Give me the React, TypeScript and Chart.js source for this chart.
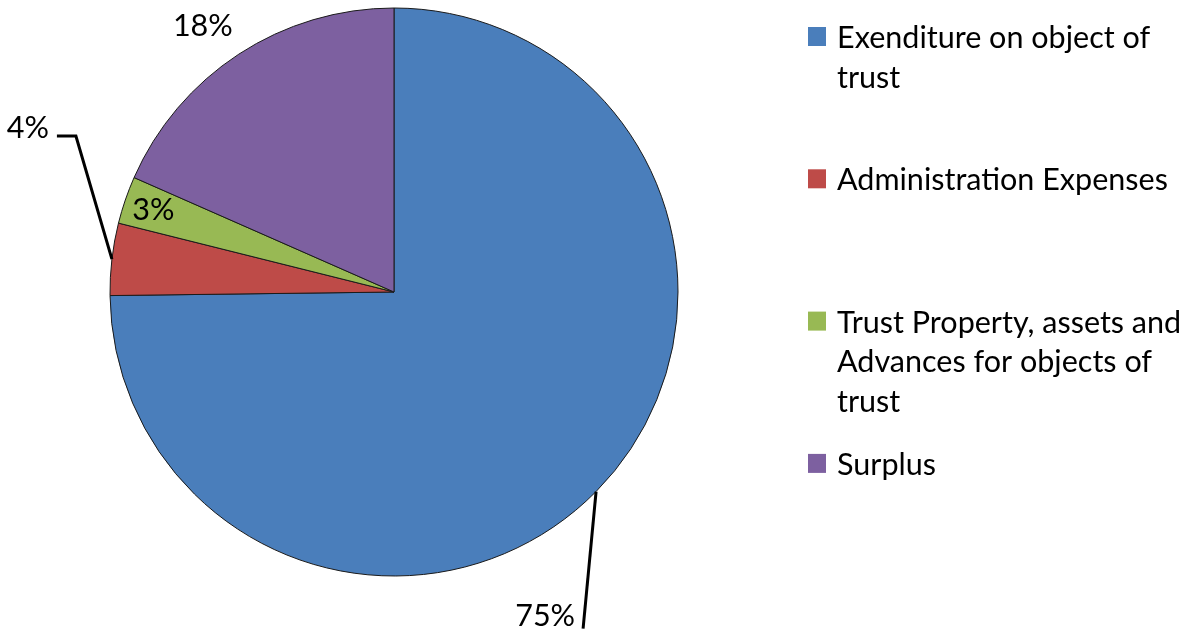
import React, { useEffect, useRef } from "react";
import { Chart, registerables } from "chart.js";

Chart.register(...registerables);

// ---- data ----
const categories = [
  "Exenditure on object of trust",
  "Administration Expenses",
  "Trust Property, assets and Advances for objects of trust",
  "Surplus",
];
const legendLines = [
  ["Exenditure on object of", "trust"],
  ["Administration Expenses"],
  ["Trust Property, assets and", "Advances for objects of", "trust"],
  ["Surplus"],
];
const values = [74.8, 4.1, 2.7, 18.4];
const colors = ["#4A7EBB", "#BE4B48", "#98B954", "#7D60A0"];

// ---- label styles (offsets relative to the slice's outer-edge midpoint) ----
type LabelStyle = {
  mode: "leader" | "text";
  dx: number;
  dy: number;
  run?: number;
  tdx?: number;
  tdy?: number;
  align?: CanvasTextAlign;
};
const labelStyles: LabelStyle[] = [
  { mode: "leader", dx: -13, dy: 137, run: 0, tdx: -8, tdy: -3, align: "right" },
  { mode: "leader", dx: -36, dy: -123, run: -19, tdx: -8, tdy: 2, align: "right" },
  { mode: "text", dx: 28, dy: 20, align: "center" },
  { mode: "text", dx: -36, dy: -18, align: "center" },
];

const FAMILY = "Lato, 'Open Sans', sans-serif";

function fontSize(ctx: CanvasRenderingContext2D) {
  ctx.font = `100px ${FAMILY}`;
  const w = ctx.measureText("Administration Expenses").width;
  return (100 * 331) / w;
}

const decorPlugin = {
  id: "decor",
  afterDatasetsDraw(chart: any) {
    const ctx: CanvasRenderingContext2D = chart.ctx;
    const meta = chart.getDatasetMeta(0);
    const total = values.reduce((a, b) => a + b, 0);
    ctx.save();
    const size = fontSize(ctx);
    ctx.font = `${size}px ${FAMILY}`;
    ctx.fillStyle = "#000";
    ctx.strokeStyle = "#000";
    ctx.textBaseline = "alphabetic";
    meta.data.forEach((arc: any, i: number) => {
      const p = arc.getProps(["x", "y", "startAngle", "endAngle", "outerRadius"], true);
      const mid = (p.startAngle + p.endAngle) / 2;
      const ex = p.x + Math.cos(mid) * p.outerRadius;
      const ey = p.y + Math.sin(mid) * p.outerRadius;
      const st = labelStyles[i];
      const txt = Math.round((values[i] / total) * 100) + "%";
      if (st.mode === "leader") {
        const bx = ex + st.dx;
        const by = ey + st.dy;
        const cx = bx + (st.run || 0);
        ctx.lineWidth = 3;
        ctx.lineJoin = "miter";
        ctx.beginPath();
        ctx.moveTo(ex, ey);
        ctx.lineTo(bx, by);
        ctx.lineTo(cx, by);
        ctx.stroke();
        ctx.textAlign = st.align || "right";
        ctx.fillText(txt, cx + (st.tdx || 0), by + (st.tdy || 0));
      } else {
        ctx.textAlign = st.align || "center";
        ctx.fillText(txt, ex + st.dx, ey + st.dy);
      }
    });
    ctx.restore();
  },
  afterDraw(chart: any) {
    const ctx: CanvasRenderingContext2D = chart.ctx;
    ctx.save();
    const size = fontSize(ctx);
    ctx.font = `${size}px ${FAMILY}`;
    ctx.textAlign = "left";
    ctx.textBaseline = "alphabetic";
    legendLines.forEach((lines, i) => {
      const base = 48 + i * 142.3;
      ctx.fillStyle = colors[i];
      ctx.fillRect(808, base - 21, 18, 19);
      ctx.fillStyle = "#000";
      lines.forEach((ln, j) => ctx.fillText(ln, 837, base + j * 39.7));
    });
    ctx.restore();
  },
};

export default function App() {
  const ref = useRef<HTMLCanvasElement | null>(null);
  useEffect(() => {
    if (!ref.current) return;
    const chart = new Chart(ref.current, {
      type: "pie",
      data: {
        labels: categories,
        datasets: [
          {
            data: values,
            backgroundColor: colors,
            borderColor: "#1a1a1a",
            borderWidth: 1,
            hoverOffset: 0,
            offset: 0,
          },
        ],
      },
      options: {
        animation: false,
        responsive: false,
        radius: 284,
        layout: { padding: { left: 0, right: 401, top: 0, bottom: 45 } },
        plugins: { legend: { display: false }, tooltip: { enabled: false } },
        events: [],
      } as any,
      plugins: [decorPlugin],
    });
    return () => chart.destroy();
  }, []);
  return (
    <div style={{ position: "absolute", left: 0, top: 0, width: 1189, height: 629, background: "#fff" }}>
      <canvas ref={ref} width={1189} height={629} style={{ display: "block" }} />
    </div>
  );
}
